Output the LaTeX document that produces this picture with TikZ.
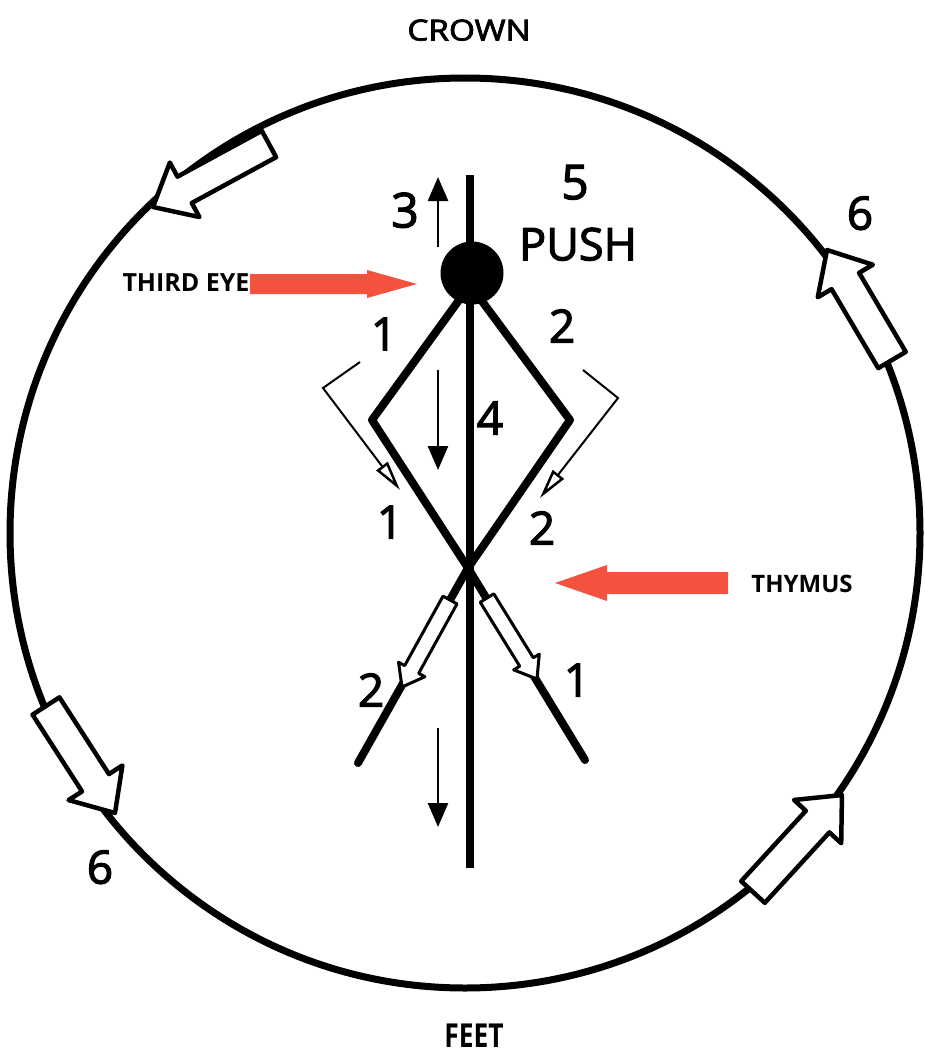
\documentclass[tikz,border=0pt]{standalone}
\usepackage{fontspec}
\setmainfont{Open Sans}
\newfontfamily\semib{Open Sans}[FakeBold=2.5]
\usetikzlibrary{arrows.meta,calc}
\definecolor{redarrow}{RGB}{242,82,62}
\newcommand{\blockarrow}[6]{%
  \path[#1] let \p1=(#2), \p2=(#3), \n1={veclen(\x2-\x1,\y2-\y1)}, \n2={atan2(\y2-\y1,\x2-\x1)} in
   {[shift={(\p1)},rotate=\n2] (0,#4) -- (\n1-#6,#4) -- (\n1-#6,#5) -- (\n1,0) -- (\n1-#6,-#5) -- (\n1-#6,-#4) -- (0,-#4) -- cycle};
}
\begin{document}
\begin{tikzpicture}[x=1pt,y=-1pt,
  lbl/.style={inner sep=0pt,text depth=0pt,font=\semib\fontsize{46}{46}\selectfont},
  hollow/.style={draw=black,fill=white,line width=4.5pt,line join=round},
  hollowsm/.style={draw=black,fill=white,line width=3pt,line join=round},
  heavy/.style={line width=8pt,line cap=round,line join=round},
  thinarrow/.style={line width=2pt,-{Triangle[open,length=30pt,width=14pt,line width=2.5pt]}},
  smallarrow/.style={line width=2.5pt,-{Triangle[length=24pt,width=20pt]}},
  redblk/.style={fill=redarrow,draw=none}]
\useasboundingbox (0,0) rectangle (924,1054);
\fill[white] (0,0) rectangle (924,1054);
% big circle
\coordinate (C) at (465,533);
\draw[line width=7pt] (C) circle[radius=455];
% circle block arrows
\coordinate (a1t) at (269,144); \coordinate (a1h) at (153,207);
\coordinate (a2t) at (892,360); \coordinate (a2h) at (827,250);
\coordinate (a3t) at (46,706);  \coordinate (a3h) at (115,813);
\coordinate (a4t) at (753,892); \coordinate (a4h) at (842,795);
\blockarrow{hollow}{a1t}{a1h}{15}{31}{36}
\blockarrow{hollow}{a2t}{a2h}{16}{32}{36}
\blockarrow{hollow}{a3t}{a3h}{16}{32}{36}
\blockarrow{hollow}{a4t}{a4h}{16}{32}{36}
% main vertical line
\coordinate (vtop) at (470,175); \coordinate (vbot) at (470,868);
\draw[line width=8pt] (vtop) -- (vbot);
% diamond / X
\coordinate (top) at (470,285);
\coordinate (lv) at (372,420); \coordinate (rv) at (570,420);
\coordinate (x) at (468,568);
\coordinate (le) at (358,763); \coordinate (re) at (585,760);
\draw[heavy] (top) -- (lv) -- (x) -- (re);
\draw[heavy] (top) -- (rv) -- (x) -- (le);
% small hollow arrows on X
\coordinate (b1t) at (450,600); \coordinate (b1h) at (402,687);
\coordinate (b2t) at (487,598); \coordinate (b2h) at (537,679);
\blockarrow{hollowsm}{b1t}{b1h}{8}{15}{20}
\blockarrow{hollowsm}{b2t}{b2h}{8}{15}{20}
% dot
\node[circle,fill=black,minimum size=63pt,inner sep=0pt] (dot) at (472,273) {};
% thin bent arrows
\coordinate (l1) at (360,362); \coordinate (l2) at (323,388); \coordinate (l3) at (400,490);
\coordinate (r1) at (583,370); \coordinate (r2) at (618,398); \coordinate (r3) at (540,498);
\draw[thinarrow] (l1) -- (l2) -- (l3);
\draw[thinarrow] (r1) -- (r2) -- (r3);
% small black arrows
\coordinate (u1) at (438,247); \coordinate (u2) at (438,177);
\coordinate (d1) at (438,370); \coordinate (d2) at (438,470);
\coordinate (e1) at (438,728); \coordinate (e2) at (438,827);
\draw[smallarrow] (u1) -- (u2);
\draw[smallarrow] (d1) -- (d2);
\draw[smallarrow] (e1) -- (e2);
% red arrows
\coordinate (te1) at (250,284); \coordinate (te2) at (417,284);
\blockarrow{redblk}{te1}{te2}{10}{14}{50}
\coordinate (ty1) at (728,583); \coordinate (ty2) at (555,583);
\blockarrow{redblk}{ty1}{ty2}{11}{18}{52}
% labels
\node[inner sep=0pt,text depth=0pt,font=\semib\fontsize{29}{29}\selectfont] (crown) at (469,30) {\scalebox{1.15}[1]{CROWN}};
\node[inner sep=0pt,text depth=0pt,font=\bfseries\fontsize{33}{33}\selectfont] (feet) at (474,1036) {\scalebox{0.8}[1]{FEET}};
\node[inner sep=0pt,text depth=0pt,font=\bfseries\fontsize{25}{25}\selectfont] (third) at (186,283) {THIRD EYE};
\node[inner sep=0pt,text depth=0pt,font=\bfseries\fontsize{24}{24}\selectfont] (thymus) at (802,584) {THYMUS};
\node[lbl,font=\semib\fontsize{48}{48}\selectfont] (n5) at (575,182) {5};
\node[lbl,font=\semib\fontsize{45}{45}\selectfont] (push) at (578,244) {PUSH};
\node[lbl,font=\semib\fontsize{48}{48}\selectfont] (n3) at (405,210) {3};
\node[lbl] (n1a) at (384,334) {1};
\node[lbl] (n2a) at (562,326) {2};
\node[lbl] (n4) at (490,418) {4};
\node[lbl] (n1b) at (390,522) {1};
\node[lbl] (n2b) at (542,528) {2};
\node[lbl] (n2c) at (371,690) {2};
\node[lbl] (n1c) at (577,680) {1};
\node[lbl] (n6a) at (860,213) {6};
\node[lbl] (n6b) at (100,867) {6};
\end{tikzpicture}
\end{document}
